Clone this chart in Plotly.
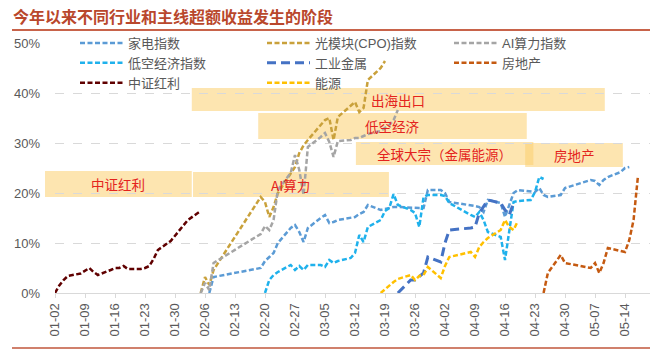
import plotly.graph_objects as go
import pandas as pd

# ---------------- data ----------------
jiadian_dates = ['2024-02-07','2024-02-08','2024-02-19','2024-02-20','2024-02-21','2024-02-22','2024-02-23',
                 '2024-02-26','2024-02-27','2024-02-28','2024-02-29','2024-03-01','2024-03-04','2024-03-05',
                 '2024-03-06','2024-03-07','2024-03-08','2024-03-11','2024-03-12','2024-03-13','2024-03-14',
                 '2024-03-15','2024-03-18','2024-03-19','2024-03-20','2024-03-21','2024-03-22','2024-03-25',
                 '2024-03-26','2024-03-27','2024-03-28','2024-03-29','2024-04-01','2024-04-02','2024-04-03',
                 '2024-04-08','2024-04-09','2024-04-10','2024-04-11','2024-04-12','2024-04-15','2024-04-16',
                 '2024-04-17','2024-04-18','2024-04-19','2024-04-22','2024-04-23','2024-04-24','2024-04-25',
                 '2024-04-26','2024-04-29','2024-04-30','2024-05-06','2024-05-07','2024-05-08','2024-05-09',
                 '2024-05-10','2024-05-13','2024-05-14','2024-05-15']
jiadian_vals = [0, 3.2, 5.0, 6.4, 7.2, 8.0, 10.0,
                13.0, 13.6, 12.2, 10.2, 13.0, 15.0, 15.6,
                14.0, 14.2, 14.6, 15.0, 15.2, 15.8, 16.2,
                17.6, 16.6, 16.8, 17.0, 17.2, 17.2, 17.0,
                17.0, 17.0, 17.0, 20.6, 20.6, 20.0, 18.2,
                17.6, 17.4, 17.2, 16.2, 18.6, 18.0, 15.2,
                17.6, 20.0, 20.6, 20.4, 20.2, 21.0, 19.6,
                19.2, 19.6, 21.0, 22.6, 22.4, 21.6, 22.6,
                23.2, 24.2, 25.0, 25.2]

cpo_dates = ['2024-02-05','2024-02-06','2024-02-07','2024-02-08','2024-02-19','2024-02-20','2024-02-21',
             '2024-02-22','2024-02-23','2024-02-26','2024-02-27','2024-02-28','2024-02-29','2024-03-01',
             '2024-03-04','2024-03-05','2024-03-06','2024-03-07','2024-03-08','2024-03-11','2024-03-12',
             '2024-03-13','2024-03-14','2024-03-15','2024-03-18','2024-03-19']
cpo_vals = [0, 3.2, 1.6, 4.6, 19.2, 18.2, 15.2,
            17.2, 20.0, 24.0, 25.2, 28.0, 29.5, 30.6,
            33.6, 34.6, 35.0, 30.6, 35.2, 37.6, 38.2,
            36.2, 37.0, 42.6, 45.0, 46.4]

ai_dates = ['2024-02-05','2024-02-06','2024-02-07','2024-02-08','2024-02-19','2024-02-20','2024-02-21',
            '2024-02-22','2024-02-23','2024-02-26','2024-02-27','2024-02-28','2024-02-29','2024-03-01',
            '2024-03-04','2024-03-05','2024-03-06','2024-03-07','2024-03-08','2024-03-11','2024-03-12',
            '2024-03-13','2024-03-14','2024-03-15','2024-03-18','2024-03-19','2024-03-20','2024-03-21',
            '2024-03-22']
ai_vals = [0, 2.0, 0.6, 6.0, 11.8, 13.4, 12.6,
           14.6, 20.6, 24.0, 27.6, 24.6, 19.6, 29.2,
           31.2, 32.0, 30.2, 27.2, 30.4, 30.6, 31.0,
           31.0, 31.4, 31.8, 32.4, 33.0, 33.6, 34.6,
           36.6]

dikong_dates = ['2024-02-20','2024-02-21','2024-02-22','2024-02-23','2024-02-26','2024-02-27','2024-02-28',
                '2024-02-29','2024-03-01','2024-03-04','2024-03-05','2024-03-06','2024-03-07','2024-03-08',
                '2024-03-11','2024-03-12','2024-03-13','2024-03-14','2024-03-15','2024-03-18','2024-03-19',
                '2024-03-20','2024-03-21','2024-03-22','2024-03-25','2024-03-26','2024-03-27','2024-03-28',
                '2024-03-29','2024-04-01','2024-04-02','2024-04-03','2024-04-08','2024-04-09','2024-04-10',
                '2024-04-11','2024-04-12','2024-04-15','2024-04-16','2024-04-17','2024-04-18','2024-04-19',
                '2024-04-22','2024-04-23','2024-04-24','2024-04-25']
dikong_vals = [0, 2.6, 3.6, 4.2, 5.6, 4.6, 5.4,
               4.6, 5.6, 5.6, 5.2, 6.6, 6.0, 6.4,
               7.0, 8.0, 11.6, 10.2, 13.2, 14.6, 16.4,
               17.0, 19.8, 17.6, 16.6, 16.0, 13.2, 19.2,
               19.6, 19.6, 19.4, 18.0, 15.6, 15.2, 16.2,
               14.6, 12.2, 11.2, 6.6, 12.6, 18.2, 18.4,
               18.6, 20.2, 23.2, 22.8]

metal_dates = ['2024-03-22','2024-03-25','2024-03-26','2024-03-27','2024-03-28','2024-03-29','2024-04-01',
               '2024-04-02','2024-04-03','2024-04-08','2024-04-09','2024-04-10','2024-04-11','2024-04-12',
               '2024-04-15','2024-04-16','2024-04-17','2024-04-18']
metal_vals = [0, 2.6, 2.6, 3.4, 4.0, 7.2, 6.2,
              10.0, 12.6, 13.0, 13.2, 16.0, 17.4, 18.6,
              18.0, 16.6, 15.6, 18.0]

estate_dates = ['2024-04-25','2024-04-26','2024-04-29','2024-04-30','2024-05-06','2024-05-07','2024-05-08',
                '2024-05-09','2024-05-10','2024-05-13','2024-05-14','2024-05-15','2024-05-16','2024-05-17']
estate_vals = [0, 4.0, 7.6, 6.0, 5.0, 6.0, 4.0,
               6.0, 9.0, 8.4, 8.2, 10.6, 14.6, 23.2]

dividend_dates = ['2024-01-02','2024-01-03','2024-01-04','2024-01-05','2024-01-08','2024-01-09','2024-01-10',
                  '2024-01-11','2024-01-12','2024-01-15','2024-01-16','2024-01-17','2024-01-18','2024-01-19',
                  '2024-01-22','2024-01-23','2024-01-24','2024-01-25','2024-01-26','2024-01-29','2024-01-30',
                  '2024-01-31','2024-02-01','2024-02-02','2024-02-05']
dividend_vals = [0, 1.5, 2.6, 3.4, 3.9, 4.4, 5.0,
                 4.2, 3.6, 4.6, 5.0, 5.0, 5.4, 4.8,
                 4.8, 5.0, 5.4, 6.8, 8.6, 10.4, 11.4,
                 12.6, 13.6, 14.6, 16.4]

energy_dates = ['2024-03-18','2024-03-19','2024-03-20','2024-03-21','2024-03-22','2024-03-25','2024-03-26',
                '2024-03-27','2024-03-28','2024-03-29','2024-04-01','2024-04-02','2024-04-03','2024-04-08',
                '2024-04-09','2024-04-10','2024-04-11','2024-04-12','2024-04-15','2024-04-16','2024-04-17',
                '2024-04-18','2024-04-19']
energy_vals = [0, 0.8, 1.6, 2.2, 2.8, 3.6, 2.6,
               3.4, 3.6, 5.2, 3.0, 5.4, 7.2, 8.2,
               7.2, 9.2, 10.2, 11.0, 12.6, 14.6, 13.2,
               12.6, 14.4]

# phases (shaded boxes)
phase_names = ['中证红利', 'AI算力', '出海出口', '低空经济', '全球大宗（金属能源）', '房地产']
phase_start = ['2023-12-30 16:00', '2024-02-03 05:00', '2024-02-02 22:00', '2024-02-18 10:00', '2024-03-12 05:00', '2024-04-20 17:00']
phase_end = ['2024-02-02 22:00', '2024-03-19 22:00', '2024-05-09 07:00', '2024-04-21 02:00', '2024-04-22 15:00', '2024-05-13 12:00']
phase_low = [19.2, 19.2, 36.4, 30.8, 25.6, 25.2]
phase_high = [24.4, 24.2, 41.0, 36.0, 30.2, 30.0]

y_ticks = [0, 10, 20, 30, 40, 50]
y_tick_labels = ['0%', '10%', '20%', '30%', '40%', '50%']

# ---------------- figure ----------------
series = [
    ('家电指数', jiadian_dates, jiadian_vals, '#5B9BD5', '5px,2.5px', 2.5),
    ('光模块(CPO)指数', cpo_dates, cpo_vals, '#C9A13B', '5px,2.5px', 2.5),
    ('AI算力指数', ai_dates, ai_vals, '#A5A5A5', '5px,2.5px', 2.5),
    ('低空经济指数', dikong_dates, dikong_vals, '#1FB1EC', '5px,2.5px', 2.5),
    ('工业金属', metal_dates, metal_vals, '#4472C4', '9px,5px', 3),
    ('房地产', estate_dates, estate_vals, '#C55A11', '5px,2.5px', 2.5),
    ('中证红利', dividend_dates, dividend_vals, '#600000', '5px,2.5px', 2.5),
    ('能源', energy_dates, energy_vals, '#FFC000', '5px,2.5px', 2.5),
]

fig = go.Figure()
for name, xs, ys, color, dash, w in series:
    fig.add_trace(go.Scatter(x=pd.to_datetime(xs), y=ys, mode='lines', name=name,
                             line=dict(color=color, dash=dash, width=w)))

x_range = [pd.Timestamp('2024-01-02'), pd.Timestamp('2024-05-19 20:00')]
span = (x_range[1] - x_range[0]).total_seconds()

def to_paper(d):
    return (pd.Timestamp(d) - x_range[0]).total_seconds() / span

shapes = []
annotations = []
for nm, s, e, lo, hi in zip(phase_names, phase_start, phase_end, phase_low, phase_high):
    x0, x1 = to_paper(s), to_paper(e)
    shapes.append(dict(type='rect', xref='paper', yref='y', x0=x0, x1=x1, y0=lo, y1=hi,
                       fillcolor='rgba(251,208,111,0.55)', line=dict(width=0), layer='below'))
    annotations.append(dict(xref='paper', yref='y', x=(x0 + x1) / 2, y=(lo + hi) / 2, text=nm,
                            showarrow=False, xanchor='center', yanchor='middle',
                            font=dict(family='Noto Sans CJK SC', size=13.5, color='#E4231D')))

# title underline and bottom rule
shapes.append(dict(type='line', xref='paper', yref='paper', x0=-43/595, x1=1.0, y0=1 + 13/250, y1=1 + 13/250,
                   line=dict(color='#C8634A', width=2)))
shapes.append(dict(type='line', xref='paper', yref='paper', x0=-43/595, x1=1.0, y0=-55/250, y1=-55/250,
                   line=dict(color='#D0806C', width=2)))

fig.update_layout(
    width=656, height=350,
    margin=dict(l=55, r=6, t=43, b=57),
    paper_bgcolor='white', plot_bgcolor='white',
    title=dict(text='今年以来不同行业和主线超额收益发生的阶段', x=13/656, xanchor='left',
               y=1 - 17/350, yanchor='middle',
               font=dict(family='Noto Sans CJK SC', size=16, color='#B9472C', weight='bold')),
    showlegend=True,
    legend=dict(orientation='h', x=20/595, xanchor='left', y=1 + 15/250, yanchor='top',
                bgcolor='rgba(0,0,0,0)', itemwidth=43, entrywidth=129, entrywidthmode='pixels',
                font=dict(family='Liberation Sans, Noto Sans CJK SC', size=13, color='#595959'),
                traceorder='normal'),
    shapes=shapes, annotations=annotations,
    xaxis=dict(type='date', range=x_range, tick0='2024-01-02', dtick=7 * 86400000, tickformat='%m-%d',
               tickangle=-90, showgrid=False, showline=True, linecolor='#D9D9D9', linewidth=1,
               ticks='outside', ticklen=4, tickcolor='#D9D9D9',
               tickfont=dict(family='Liberation Sans', size=13, color='#595959')),
    yaxis=dict(range=[0, 50], tickvals=y_ticks, ticktext=y_tick_labels, showgrid=True, gridcolor='#D9D9D9',
               griddash='dash', zeroline=False, showline=False, ticklabelstandoff=14,
               tickfont=dict(family='Liberation Sans', size=13, color='#595959')),
)

fig.write_html('out.html')
